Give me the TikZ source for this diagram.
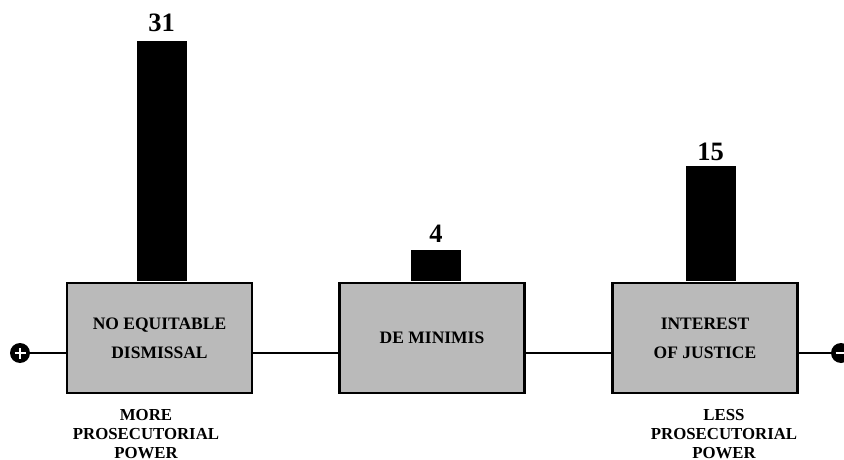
\documentclass[tikz,border=0pt]{standalone}
\usepackage{fontspec}
\setmainfont{Liberation Serif}
\begin{document}
\begin{tikzpicture}[x=1pt,y=-1pt,
  box/.style={draw=black, line width=2.8pt, fill=black!27, minimum width=185pt, minimum height=110pt, inner sep=0pt, align=center, font=\fontsize{17.5}{29}\selectfont\bfseries},
  bar/.style={fill=black, draw=none, minimum width=50pt, inner sep=0pt, anchor=south},
  num/.style={anchor=base, inner sep=0pt, font=\fontsize{26.5}{26}\selectfont\bfseries},
  side/.style={anchor=base, inner sep=0pt, align=center, font=\fontsize{16.8}{19}\selectfont\bfseries},
  term/.style={circle, fill=black, minimum size=20pt, inner sep=0pt},
  wire/.style={line width=2pt}]
\useasboundingbox (0,0) rectangle (844,460);
\fill[white] (0,0) rectangle (844,460);
% terminals
\node[term] (plus) at (20,353) {};
\node[term] (minus) at (841,353) {};
\draw[white, line width=2.6pt] ([xshift=-5.5pt]plus.center) -- ([xshift=5.5pt]plus.center);
\draw[white, line width=2.6pt] ([yshift=-5.5pt]plus.center) -- ([yshift=5.5pt]plus.center);
\draw[white, line width=2.6pt] ([xshift=-5.5pt]minus.center) -- ([xshift=5.5pt]minus.center);
% boxes
\node[box] (b1) at (159.5,338) {NO EQUITABLE\\DISMISSAL};
\node[box] (b2) at (432,338) {DE MINIMIS};
\node[box] (b3) at (705,338) {INTEREST\\OF JUSTICE};
% bars
\node[bar, minimum height=240pt] (r1) at (161.5,281.6) {};
\node[bar, minimum height=31pt] (r2) at (436,281.6) {};
\node[bar, minimum height=115pt] (r3) at (710.5,281.6) {};
% numbers
\node[num] (n1) at (161.5,32) {31};
\node[num] (n2) at (436,242) {4};
\node[num] (n3) at (710.5,160) {15};
% connectors
\draw[wire] (plus.east) -- (plus.east -| b1.west);
\draw[wire] (b1.east |- plus.east) -- (b2.west |- plus.east);
\draw[wire] (b2.east |- plus.east) -- (b3.west |- plus.east);
\draw[wire] (b3.east |- minus.west) -- (minus.west);
% side labels
\node[side] (more) at (146,458) {MORE\\PROSECUTORIAL\\POWER};
\node[side] (less) at (724,458) {LESS\\PROSECUTORIAL\\POWER};
\end{tikzpicture}
\end{document}
